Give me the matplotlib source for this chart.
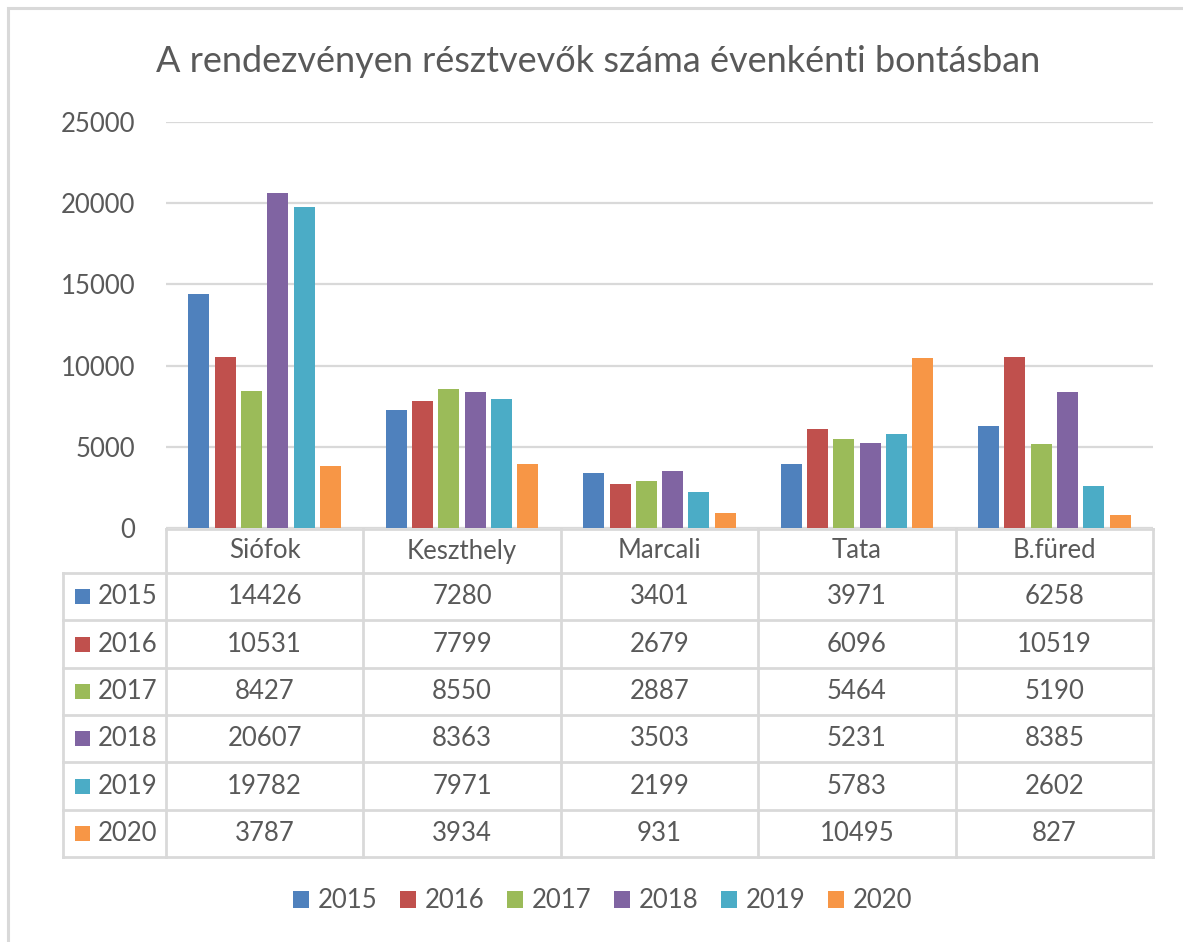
import matplotlib
matplotlib.use("Agg")
import matplotlib.pyplot as plt
from matplotlib.patches import Rectangle
from matplotlib.lines import Line2D
import numpy as np

plt.rcParams['font.family'] = ['Lato', 'DejaVu Sans']

title = "A rendezvényen résztvevők száma évenkénti bontásban"
categories = ["Siófok", "Keszthely", "Marcali", "Tata", "B.füred"]
years = ["2015", "2016", "2017", "2018", "2019", "2020"]
v2015 = [14426, 7280, 3401, 3971, 6258]
v2016 = [10531, 7799, 2679, 6096, 10519]
v2017 = [8427, 8550, 2887, 5464, 5190]
v2018 = [20607, 8363, 3503, 5231, 8385]
v2019 = [19782, 7971, 2199, 5783, 2602]
v2020 = [3787, 3934, 931, 10495, 827]
series = [v2015, v2016, v2017, v2018, v2019, v2020]
colors = ["#4F81BD", "#C0504D", "#9BBB59", "#8064A2", "#4BACC6", "#F79646"]
yticks = [0, 5000, 10000, 15000, 20000, 25000]

W, H = 1183, 942
fig = plt.figure(figsize=(W / 100, H / 100), dpi=100)
TXT = "#595959"
GRID = "#D9D9D9"
FS = 18.5

def fx(px):
    return px / W

def fy(py):
    return 1 - py / H

# outer chart border (right/bottom cut off in reference)
fig.add_artist(Rectangle((fx(8), fy(1000)), fx(1300), fy(8) - fy(1000),
                         transform=fig.transFigure, fill=False,
                         edgecolor="#D9D9D9", linewidth=2.2))

# plot area
left_px, right_px, top_px, bot_px = 166, 1153, 122, 528
ax = fig.add_axes([fx(left_px), fy(bot_px), fx(right_px - left_px), (bot_px - top_px) / H])
ax.set_ylim(0, 25000)
ax.set_xlim(-0.5, len(categories) - 0.5)
ax.set_yticks(yticks)
ax.set_yticklabels([str(t) for t in yticks], fontsize=FS, color=TXT)
ax.tick_params(axis='y', length=0, pad=22)
ax.set_xticks([])
for s in ax.spines.values():
    s.set_visible(False)
ax.grid(axis='y', color=GRID, linewidth=1.6)
ax.set_axisbelow(True)

x = np.arange(len(categories))
slot = 26.3 / 197.4
bw = 21 / 197.4
for i, (vals, c) in enumerate(zip(series, colors)):
    ax.bar(x + (i - 2.5) * slot, vals, width=bw, color=c, zorder=3)

# title
fig.text(fx(598), fy(61), title, fontsize=26, color=TXT, ha='center', va='center')

# data table
col_edges = [166, 363.4, 560.8, 758.2, 955.6, 1153]
row_edges = [529, 573, 620.3, 667.7, 715, 762.3, 809.7, 857]
tab_left = 63
lw = 2.0
def hline(y, x0, x1):
    fig.add_artist(Line2D([fx(x0), fx(x1)], [fy(y), fy(y)], transform=fig.transFigure,
                          color=GRID, linewidth=lw))
def vline(xp, y0, y1):
    fig.add_artist(Line2D([fx(xp), fx(xp)], [fy(y0), fy(y1)], transform=fig.transFigure,
                          color=GRID, linewidth=lw))

hline(row_edges[0], col_edges[0], col_edges[-1])
for y in row_edges[1:]:
    hline(y, tab_left, col_edges[-1])
for xp in col_edges:
    vline(xp, row_edges[0], row_edges[-1])
vline(tab_left, row_edges[1], row_edges[-1])

for j, cat in enumerate(categories):
    cx = (col_edges[j] + col_edges[j + 1]) / 2
    cy = (row_edges[0] + row_edges[1]) / 2
    fig.text(fx(cx), fy(cy), cat, fontsize=FS, color=TXT, ha='center', va='center')

for i, (yr, vals, c) in enumerate(zip(years, series, colors)):
    cy = (row_edges[i + 1] + row_edges[i + 2]) / 2
    fig.add_artist(Rectangle((fx(75), fy(cy + 7.5)), fx(15), fy(cy - 7.5) - fy(cy + 7.5),
                             transform=fig.transFigure, facecolor=c, edgecolor='none'))
    fig.text(fx(98), fy(cy), yr, fontsize=FS, color=TXT, ha='left', va='center')
    for j, v in enumerate(vals):
        cx = (col_edges[j] + col_edges[j + 1]) / 2
        fig.text(fx(cx), fy(cy), str(v), fontsize=FS, color=TXT, ha='center', va='center')

# legend
handles = [Rectangle((0, 0), 1, 1, facecolor=c, edgecolor='none') for c in colors]
fig.legend(handles, years, loc='center', bbox_to_anchor=(fx(603), fy(901)), ncol=6,
           frameon=False, fontsize=FS, labelcolor=TXT, handlelength=0.6, handleheight=0.6,
           handletextpad=0.36, columnspacing=0.88)

fig.savefig("out.png", dpi=100, facecolor="white")
